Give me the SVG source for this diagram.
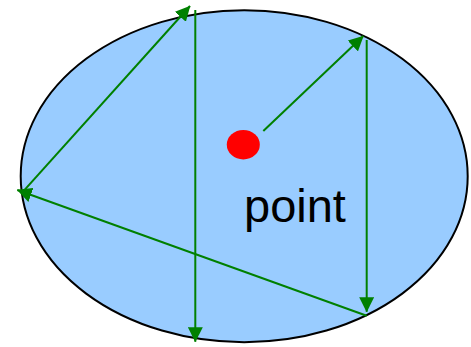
<svg xmlns="http://www.w3.org/2000/svg" width="471" height="347" viewBox="0 0 471 347">
<style>
.conn{stroke:#008000;stroke-width:2;fill:none}
.lbl{font-family:"Liberation Sans",Arial,sans-serif;font-size:47px;fill:#000}
</style>
<defs>
<marker id="ah" viewBox="0 0 15 15" markerUnits="userSpaceOnUse" markerWidth="15" markerHeight="15" refX="14.5" refY="7.5" orient="auto">
<path d="M0,0 L15,7.5 L0,15 z" fill="#008000"/>
</marker>
</defs>
<rect width="471" height="347" fill="#fff"/>
<g id="region">
<ellipse cx="244.2" cy="176.2" rx="223.5" ry="166" fill="#99ccff" stroke="#000" stroke-width="2"/>
</g>
<g id="point">
<ellipse cx="243.3" cy="144.7" rx="16.5" ry="14.7" fill="#ff0000"/>
<text class="lbl" x="244" y="221.7">point</text>
</g>
<g id="connectors">
<line class="conn" marker-end="url(#ah)" x1="263.3" y1="131" x2="363.3" y2="36"/>
<line class="conn" marker-end="url(#ah)" x1="366.7" y1="40" x2="366.7" y2="311.7"/>
<line class="conn" marker-end="url(#ah)" x1="366.7" y1="315.7" x2="17.3" y2="190"/>
<line class="conn" marker-end="url(#ah)" x1="23" y1="191.7" x2="190" y2="6"/>
<line class="conn" marker-end="url(#ah)" x1="195.3" y1="10" x2="195.3" y2="341.7"/>
</g>
</svg>
